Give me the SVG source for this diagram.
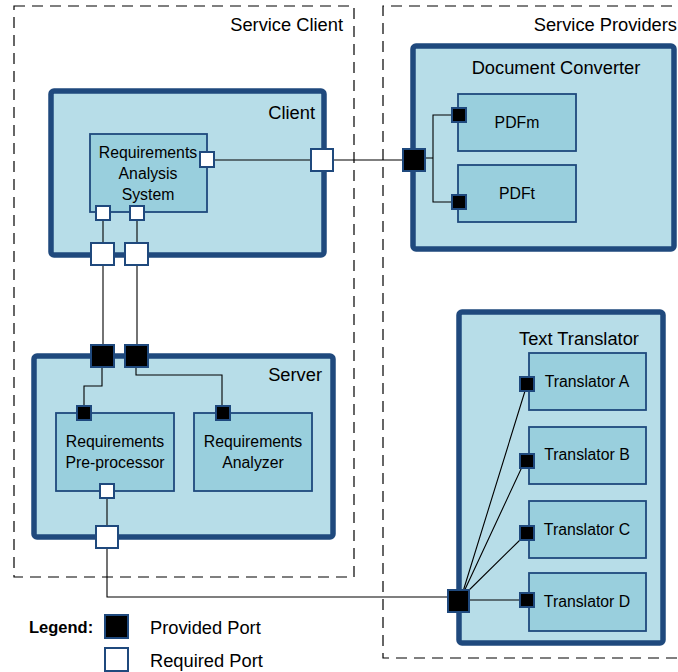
<svg xmlns="http://www.w3.org/2000/svg" width="678" height="672" viewBox="0 0 678 672">
<style>
.bg{fill:#ffffff}
.area{fill:none;stroke:#000;stroke-width:1.2;stroke-dasharray:11,7}
.outer{fill:#b7dde8;stroke:#1f497d;stroke-width:5.5}
.inner{fill:#99cfdd;stroke:#1f497d;stroke-width:1.8}
.prov{fill:#000;stroke:#1f497d;stroke-width:2}
.req{fill:#fff;stroke:#1f497d;stroke-width:2}
.wire{fill:none;stroke:#000;stroke-width:1.1}
text{font-family:"Liberation Sans",Arial,sans-serif;fill:#000}
.big{font-size:18.3px}
.sm{font-size:15.8px}
.mid{text-anchor:middle}
.end{text-anchor:end}
</style>
<rect class="bg" x="0" y="0" width="678" height="672"/>
<g id="service-client">
<rect class="area" x="14" y="6" width="340" height="571"/>
<text class="big end" x="343" y="31">Service Client</text>
</g>
<g id="service-providers">
<path class="area" d="M690,6 H383 V658 H690"/>
<text class="big end" x="677" y="31">Service Providers</text>
</g>
<g id="client">
<rect class="outer" x="51" y="91" width="273" height="164" rx="3"/>
<text class="big end" x="315" y="119">Client</text>
</g>
<g id="ras">
<rect class="inner" x="90" y="134" width="117" height="78"/>
<text class="sm mid" x="148" y="158">Requirements</text>
<text class="sm mid" x="148" y="179">Analysis</text>
<text class="sm mid" x="148" y="200">System</text>
</g>
<g id="document-converter">
<rect class="outer" x="413" y="46" width="261" height="203" rx="3"/>
<text class="big mid" x="556" y="74">Document Converter</text>
</g>
<g id="pdfm">
<rect class="inner" x="458" y="94" width="118" height="57"/>
<text class="sm mid" x="517" y="128">PDFm</text>
</g>
<g id="pdft">
<rect class="inner" x="458" y="165" width="118" height="57"/>
<text class="sm mid" x="517" y="199">PDFt</text>
</g>
<g id="server">
<rect class="outer" x="34" y="356" width="299" height="181" rx="3"/>
<text class="big end" x="322" y="381">Server</text>
</g>
<g id="req-preprocessor">
<rect class="inner" x="56" y="413" width="118" height="78"/>
<text class="sm mid" x="115" y="447">Requirements</text>
<text class="sm mid" x="115" y="468">Pre-processor</text>
</g>
<g id="req-analyzer">
<rect class="inner" x="194" y="413" width="118" height="78"/>
<text class="sm mid" x="253" y="447">Requirements</text>
<text class="sm mid" x="253" y="468">Analyzer</text>
</g>
<g id="text-translator">
<rect class="outer" x="459" y="312" width="204" height="331" rx="3"/>
<text class="big mid" x="579" y="345">Text Translator</text>
</g>
<g id="translator-a">
<rect class="inner" x="529" y="353" width="117" height="57"/>
<text class="sm mid" x="587" y="387">Translator A</text>
</g>
<g id="translator-b">
<rect class="inner" x="529" y="427" width="117" height="57"/>
<text class="sm mid" x="587" y="460">Translator B</text>
</g>
<g id="translator-c">
<rect class="inner" x="529" y="501" width="117" height="57"/>
<text class="sm mid" x="587" y="535">Translator C</text>
</g>
<g id="translator-d">
<rect class="inner" x="529" y="573" width="117" height="58"/>
<text class="sm mid" x="587" y="607">Translator D</text>
</g>
<g id="connectors">
<path class="wire" d="M214,160 H311"/>
<path class="wire" d="M333,160 H403"/>
<path class="wire" d="M425,158 H433 M452,115 H433 V202 H452"/>
<path class="wire" d="M103,220 V345"/>
<path class="wire" d="M137,220 V345"/>
<path class="wire" d="M102,367 V386 H84 V406"/>
<path class="wire" d="M136,367 V375 H222 V406"/>
<path class="wire" d="M107,498 V526"/>
<path class="wire" d="M107,548 V597 H448"/>
<path class="wire" d="M461,598 L525,391 M461,598 L522,467 M461,598 L522,538 M469,600 H520"/>
</g>
<g id="ports">
<rect class="req" x="200" y="152" width="14" height="15"/>
<rect class="req" x="96" y="206" width="14" height="14"/>
<rect class="req" x="130" y="206" width="14" height="14"/>
<rect class="req" x="311" y="149" width="22" height="22"/>
<rect class="req" x="91" y="243" width="23" height="22"/>
<rect class="req" x="125" y="243" width="23" height="22"/>
<rect class="prov" x="403" y="149" width="22" height="22"/>
<rect class="prov" x="452" y="108" width="14" height="14"/>
<rect class="prov" x="452" y="195" width="14" height="14"/>
<rect class="prov" x="91" y="345" width="23" height="22"/>
<rect class="prov" x="125" y="345" width="23" height="22"/>
<rect class="prov" x="77" y="406" width="14" height="14"/>
<rect class="prov" x="216" y="406" width="14" height="14"/>
<rect class="req" x="100" y="484" width="14" height="14"/>
<rect class="req" x="96" y="526" width="22" height="22"/>
<rect class="prov" x="448" y="590" width="21" height="22"/>
<rect class="prov" x="520" y="377" width="14" height="14"/>
<rect class="prov" x="520" y="454" width="14" height="14"/>
<rect class="prov" x="520" y="526" width="14" height="14"/>
<rect class="prov" x="520" y="593" width="14" height="14"/>
</g>
<g id="legend">
<text x="29" y="633" style="font-size:16.5px;font-weight:bold">Legend:</text>
<rect class="prov" x="105" y="615" width="23" height="23"/>
<text class="big" x="150" y="634">Provided Port</text>
<rect class="req" x="105" y="648" width="23" height="23"/>
<text class="big" x="150" y="667">Required Port</text>
</g>
</svg>
